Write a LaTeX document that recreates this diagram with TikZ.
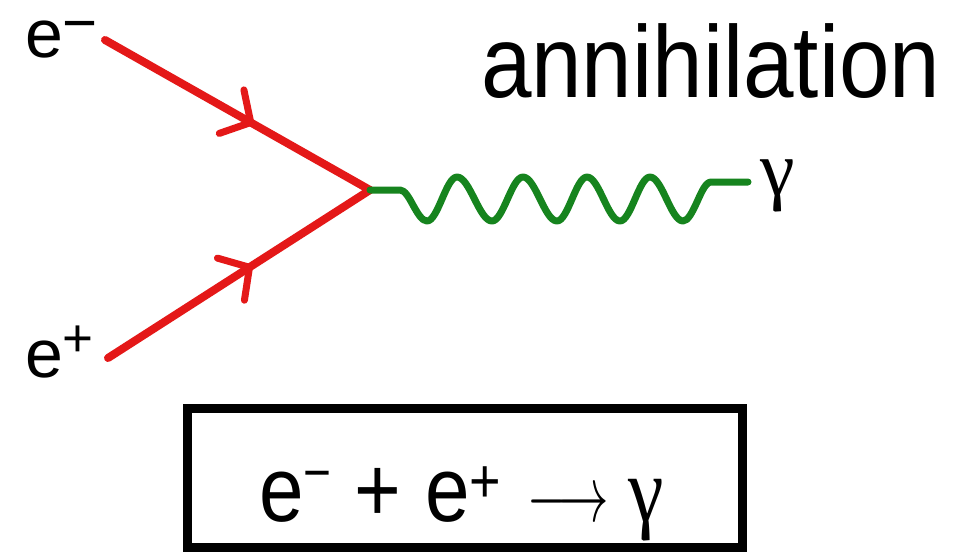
\documentclass[tikz,border=0pt]{standalone}
\usepackage{fontspec}
\setmainfont{Liberation Sans}
\newfontfamily\grkfont{Liberation Serif}
\usetikzlibrary{decorations.markings}
\definecolor{fermred}{RGB}{228,24,24}
\definecolor{photgreen}{RGB}{22,132,30}
\newcommand\fsz[1]{\fontsize{#1}{#1}\selectfont}
\newcommand\rsup[3]{\raisebox{#1}{\fsz{#2}#3}}
\tikzset{
  fermion/.style={draw=fermred, line width=8pt, line cap=round, postaction={decorate},
    decoration={markings, mark=at position #1 with {\draw[fermred, line width=7pt, line cap=round, line join=miter] (-22,25) -- (0,0) -- (-22,-25);}}},
  photon/.style={draw=photgreen, line width=7pt, line cap=round, line join=round},
  lbl/.style={inner sep=0pt, outer sep=0pt, anchor=base west},
  eqbox/.style={draw=black, line width=9pt, minimum width=555pt, minimum height=139pt, inner sep=0pt},
}
\begin{document}
\begin{tikzpicture}[x=1pt,y=-1pt]
\useasboundingbox (0,0) rectangle (961,558);
\fill[white] (0,0) rectangle (961,558);
% coordinates
\coordinate (ea) at (105,40);
\coordinate (pa) at (108,358);
\coordinate (v) at (370,190);
\coordinate (g) at (748,182);
% fermion lines
\draw[fermion=0.55] (ea) -- (v);
\draw[fermion=0.54] (pa) -- (v);
% photon
\draw[photon] (v) -- (400,190) cos (413.5,206) sin (427,221)
  cos (442,199) sin (457,177) cos (474.5,199) sin (492,221)
  cos (507.5,199) sin (523,177) cos (540,199) sin (557,221)
  cos (572,199) sin (587,177) cos (603.5,199) sin (620,221)
  cos (635,199) sin (650,177) cos (666.5,199) sin (683,221)
  cos (697,202) sin (711,182) -- (g);
% labels
\node[lbl, font=\fsz{68}] (lm) at (25,57) {e\rsup{14pt}{60}{−}};
\node[lbl, font=\fsz{68}] (lp) at (25,377) {e\rsup{21pt}{53}{+}};
\node[lbl, font=\fsz{78}\grkfont] (lg) at (760,195) {γ};
\node[lbl, font=\fsz{102}] (title) at (481,97) {\scalebox{0.89}[1]{annihilation}};
% equation box
\node[eqbox] (box) at (464.5,477.5) {};
\node[lbl, font=\fsz{92}] (eq) at (259,521) {\scalebox{0.87}[1]{e\rsup{30pt}{55}{−}\hspace{27pt}+\hspace{27pt}e\rsup{19pt}{62}{+}\hspace{30pt}\scalebox{5.8}[8]{\normalsize$\longrightarrow$}\hspace{23pt}{\grkfont γ}}};
\end{tikzpicture}
\end{document}
